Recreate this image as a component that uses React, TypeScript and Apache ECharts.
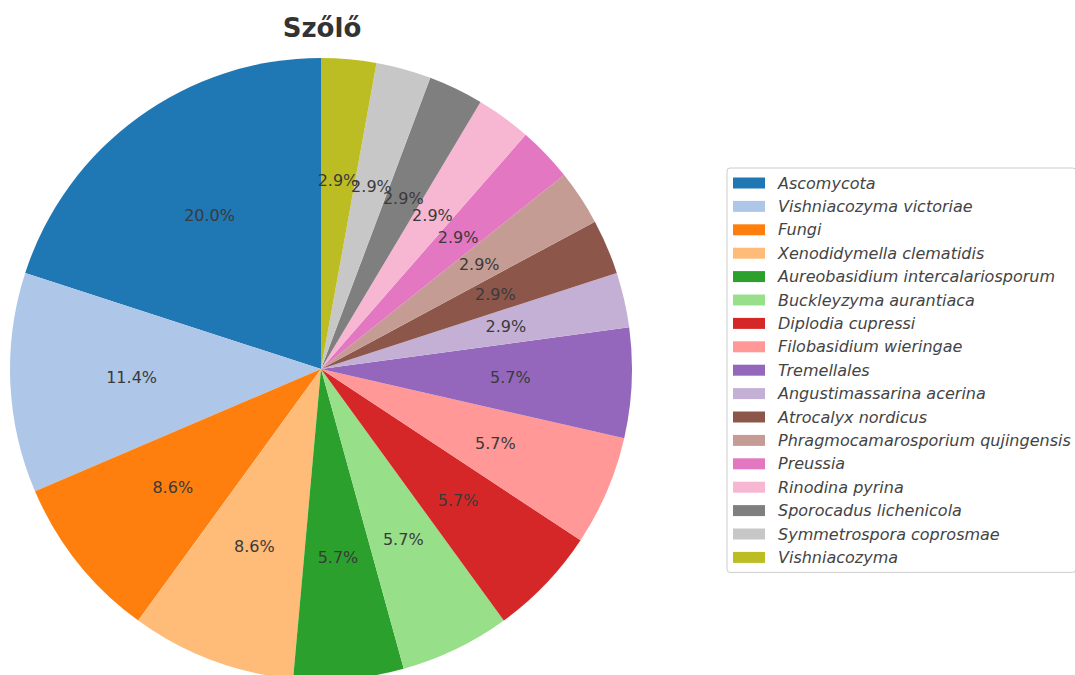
import React, { useEffect, useRef } from "react";
import * as echarts from "echarts";

const titleText = "Szőlő";
const names = [
  "Ascomycota",
  "Vishniacozyma victoriae",
  "Fungi",
  "Xenodidymella clematidis",
  "Aureobasidium intercalariosporum",
  "Buckleyzyma aurantiaca",
  "Diplodia cupressi",
  "Filobasidium wieringae",
  "Tremellales",
  "Angustimassarina acerina",
  "Atrocalyx nordicus",
  "Phragmocamarosporium qujingensis",
  "Preussia",
  "Rinodina pyrina",
  "Sporocadus lichenicola",
  "Symmetrospora coprosmae",
  "Vishniacozyma",
];
const counts = [7, 4, 3, 3, 2, 2, 2, 2, 2, 1, 1, 1, 1, 1, 1, 1, 1];
const colors = [
  "#1f77b4", "#aec7e8", "#ff7f0e", "#ffbb78", "#2ca02c", "#98df8a",
  "#d62728", "#ff9896", "#9467bd", "#c5b0d5", "#8c564b", "#c49c94",
  "#e377c2", "#f7b6d2", "#7f7f7f", "#c7c7c7", "#bcbd22",
];

const FONT = "DejaVu Sans";
const CX = 321;
const CY = 369;
const R = 311;

export default function App() {
  const ref = useRef<HTMLDivElement>(null);
  useEffect(() => {
    if (!ref.current) return;
    const chart = echarts.init(ref.current, null, { renderer: "svg" });
    const total = counts.reduce((a, b) => a + b, 0);
    const pieData = names.map((n, i) => ({
      name: n,
      value: counts[i],
      itemStyle: { color: colors[i] },
    }));
    const labelData = names.map((n, i) => ({
      name: n,
      value: counts[i],
      itemStyle: { color: "rgba(0,0,0,0)" },
    }));
    chart.setOption({
      animation: false,
      title: {
        text: titleText,
        left: CX - 4,
        textAlign: "center",
        top: 10,
        textStyle: { fontFamily: FONT, fontSize: 26, fontWeight: "bold", color: "#333" },
      },
      legend: {
        orient: "vertical",
        left: 727,
        top: 168,
        padding: [7, 5, 7, 6],
        borderColor: "#cccccc",
        borderWidth: 1,
        borderRadius: 3,
        itemWidth: 32,
        itemHeight: 11,
        itemGap: 7.4,
        selectedMode: false,
        data: names.map((n, i) => ({
          name: n,
          icon: "rect",
          itemStyle: { color: colors[i] },
        })),
        textStyle: {
          fontFamily: FONT,
          fontSize: 16,
          fontStyle: "italic",
          color: "#444",
          lineHeight: 16,
          padding: [0, 0, 0, 8],
        },
      },
      series: [
        {
          type: "pie",
          center: [CX, CY],
          radius: [0, R],
          startAngle: 90,
          clockwise: false,
          data: pieData,
          label: { show: false },
          labelLine: { show: false },
          emphasis: { disabled: true },
          silent: true,
        },
        {
          type: "pie",
          center: [CX, CY],
          radius: [0, R * 1.2],
          startAngle: 90,
          clockwise: false,
          data: labelData,
          silent: true,
          avoidLabelOverlap: false,
          labelLayout: { hideOverlap: false },
          emphasis: { disabled: true },
          labelLine: { show: false },
          label: {
            show: true,
            position: "inside",
            fontFamily: FONT,
            fontSize: 16,
            color: "#3a3a3a",
            formatter: (p: any) => ((p.value / total) * 100).toFixed(1) + "%",
          },
        },
      ],
    });
    return () => chart.dispose();
  }, []);
  return (
    <div
      ref={ref}
      style={{ position: "fixed", left: 0, top: 0, width: 1075, height: 675, background: "#fff" }}
    />
  );
}
